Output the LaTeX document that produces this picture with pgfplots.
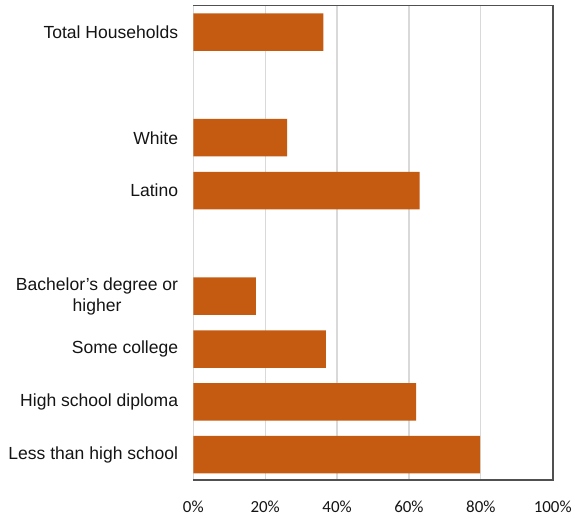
\documentclass[border=0pt]{standalone}
\usepackage{fontspec}
\setmainfont{Liberation Sans}
\newfontfamily\calib{Carlito}
\usepackage{pgfplots}
\pgfplotsset{compat=1.18}
\definecolor{barorange}{RGB}{197,90,17}
\definecolor{gridgray}{RGB}{217,217,217}
\definecolor{framegray}{RGB}{80,80,80}
\definecolor{txt}{RGB}{20,20,20}
\begin{document}
\begin{tikzpicture}
\begin{axis}[
  name=ax,
  scale only axis,
  width=359.4bp, height=474.3bp,
  xbar, bar width=37.5bp,
  xmin=0, xmax=100,
  ymin=-0.48, ymax=8.5,
  xtick={0,20,40,60,80,100},
  xticklabels={0\%,20\%,40\%,60\%,80\%,100\%},
  ytick={0,1,2,3,5,6,8},
  yticklabels={Less than high school,High school diploma,Some college,{Bachelor's degree or\\higher},Latino,White,Total Households},
  major tick length=0pt,
  xmajorgrids,
  grid style={gridgray, line width=1.2bp},
  axis line style={draw=none},
  xticklabel style={font=\calib\fontsize{17}{18}\selectfont, text=txt, anchor=center, inner sep=0pt, yshift=-26.7bp},
  yticklabel style={font=\fontsize{17.6}{21}\selectfont, text=txt, align=center, anchor=east, inner sep=0pt, xshift=-15bp},
]
\addplot[fill=barorange, draw=none] coordinates {
  (79.8,0) (62.0,1) (36.9,2) (17.4,3) (63.0,5) (26.1,6) (36.2,8)
};
\end{axis}
\draw[framegray, line width=1.6bp] (ax.south west) -- (ax.south east) -- (ax.north east) -- (ax.north west);
\pgfresetboundingbox
\useasboundingbox ([xshift=-193.3bp,yshift=-39bp]ax.south west) rectangle ([xshift=22.3bp,yshift=5.7bp]ax.north east);
\end{tikzpicture}
\end{document}
